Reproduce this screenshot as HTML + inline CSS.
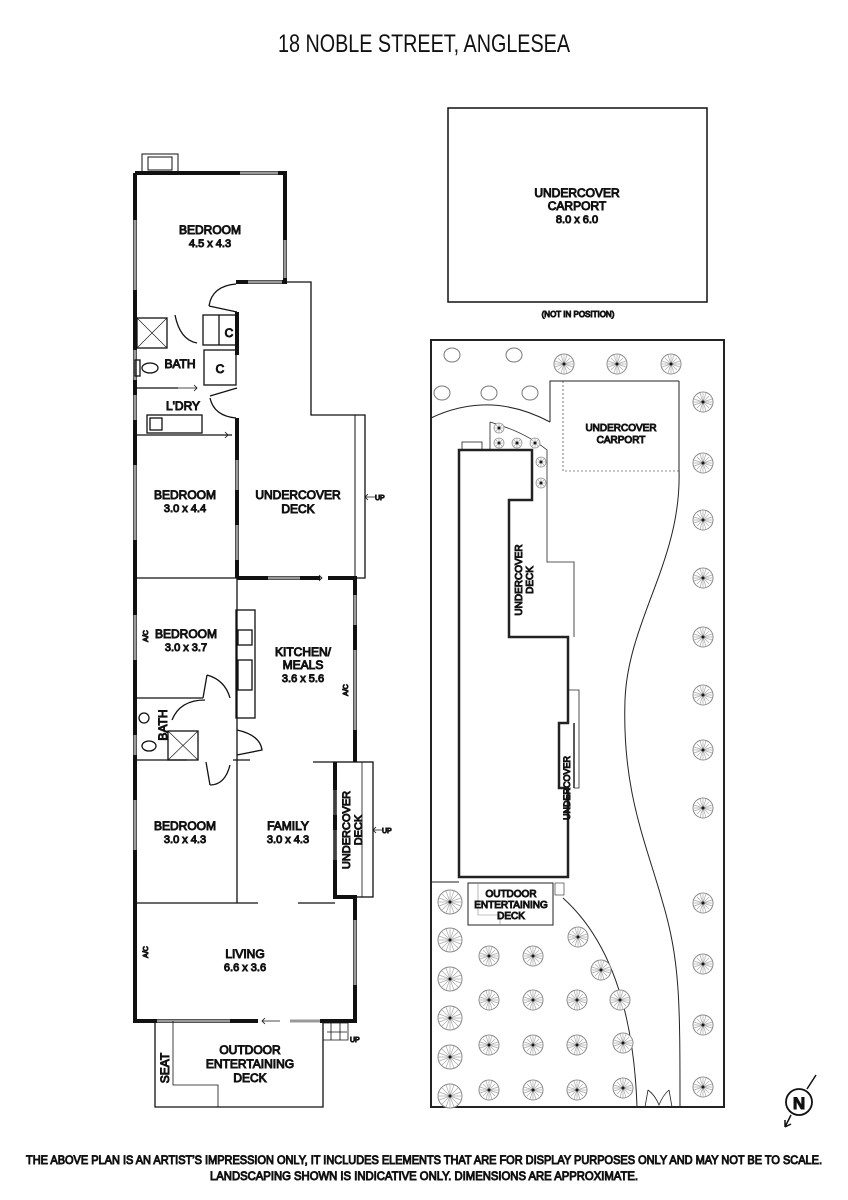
<!DOCTYPE html>
<html><head><meta charset="utf-8"><style>
html,body{margin:0;padding:0;background:#fff;}
svg{display:block;}
text{font-family:"Liberation Sans",sans-serif;fill:#111;}
</style></head><body>
<svg width="848" height="1200" viewBox="0 0 848 1200" xmlns="http://www.w3.org/2000/svg">
<defs>
<g id="st"><circle r="10" fill="#fff" stroke="#888" stroke-width="1"/><path d="M0,-9L0,9M-9,0L9,0M-6,-6L6,6M-6,6L6,-6M-3,-9L3,9M-9,-3L9,3M-9,3L9,-3M-3,9L3,-9" stroke="#aaa" stroke-width="0.7"/><circle r="1" fill="#333"/></g>
<g id="sm"><circle r="5" fill="#fff" stroke="#999" stroke-width="0.8"/><path d="M0,-5L0,5M-5,0L5,0M-3.5,-3.5L3.5,3.5M-3.5,3.5L3.5,-3.5" stroke="#999" stroke-width="0.6"/><circle r="1" fill="#333"/></g>
<g id="bt"><circle r="12" fill="#fff" stroke="#888" stroke-width="1"/><path d="M0,-11L0,11M-11,0L11,0M-8,-8L8,8M-8,8L8,-8M-4,-11L4,11M-11,-4L11,4M-11,4L11,-4M-4,11L4,-11" stroke="#aaa" stroke-width="0.7"/><circle r="1" fill="#333"/></g>
<g id="pl"><ellipse rx="8" ry="7" fill="#fff" stroke="#777" stroke-width="1"/></g>
</defs>
<text x="424" y="52" font-size="25" text-anchor="middle" textLength="292" lengthAdjust="spacingAndGlyphs">18 NOBLE STREET, ANGLESEA</text>

<g fill="none" stroke="#111">
<rect x="142" y="154" width="36" height="19" stroke-width="1"/>
<rect x="148" y="157" width="24" height="13" stroke-width="1"/>
<path d="M135,173 L135,1021 L258,1021" stroke-width="4"/>
<path d="M135,173 L285,173 L285,282 L236,282" stroke-width="4"/>
<path d="M237,312 L237,355" stroke-width="4"/>
<path d="M237,418 L237,578" stroke-width="4"/>
<path d="M237,578 L320,578 M328,578 L355,578 L355,762" stroke-width="4"/>
<path d="M335,762 L335,897 L355,897 L355,1021 L320,1021" stroke-width="4"/>
<g stroke="#999" stroke-width="3">
<path d="M240,173 L278,173"/><path d="M285,240 L285,278"/><path d="M248,282 L282,282"/>
<path d="M135,220 L135,290"/><path d="M135,350 L135,380"/><path d="M135,395 L135,420"/>
<path d="M135,465 L135,540"/><path d="M237,460 L237,490"/><path d="M237,525 L237,560"/>
<path d="M268,578 L300,578"/>
<path d="M135,615 L135,660"/><path d="M135,735 L135,755"/><path d="M135,800 L135,850"/>
<path d="M355,595 L355,625"/><path d="M355,650 L355,730"/>
<path d="M335,790 L335,815"/><path d="M335,830 L335,860"/>
<path d="M355,920 L355,985"/><path d="M157,1021 L230,1021"/><path d="M290,1021 L320,1021"/>
</g>
<g stroke-width="1.3">
<path d="M285,282 L311,282 L311,415 L365,415 L365,578 L353,578"/>
<path d="M355,415 L355,578" stroke-width="1"/>
<path d="M135,388 L178,388 M135,435 L203,435 M203,435 L232,435"/>
<path d="M135,578 L237,578"/>
<path d="M237,578 L237,762 M135,698 L203,698 M135,760 L187,760 M233,760 L250,760 M313,762 L335,762"/>
<path d="M237,762 L237,903 M135,903 L258,903 M298,903 L335,903"/>
<rect x="335" y="762" width="38" height="135"/>
<path d="M362,762 L362,897" stroke-width="0.8"/>
<rect x="203" y="315" width="33" height="30"/><path d="M219,315 L219,345"/>
<rect x="204" y="350" width="32" height="35"/>
<rect x="137" y="318" width="30" height="30"/><path d="M137,318 L167,348 M167,318 L137,348" stroke-width="0.6"/>
<rect x="147" y="415" width="55" height="18"/><rect x="150" y="418" width="12" height="12"/>
<path d="M209,306 Q212,286 236,284 M209,306 L237,312"/>
<path d="M210,398 Q214,416 236,418 M210,396 L237,388"/>
<path d="M175,315 Q180,340 197,343"/>
<rect x="236" y="610" width="19" height="108"/>
<rect x="238" y="630" width="14" height="15"/><rect x="238" y="660" width="14" height="30"/>
<rect x="168" y="731" width="30" height="29"/><path d="M168,731 L198,760 M198,731 L168,760" stroke-width="0.6"/>
<path d="M207,675 Q225,680 230,698 M207,675 L203,698"/>
<path d="M172,720 Q180,700 205,700"/>
<path d="M237,730 Q260,735 262,750 L237,755"/>
<path d="M210,785 Q225,785 230,765 M210,785 L206,762"/>
<ellipse cx="150" cy="368" rx="8" ry="5"/><rect x="135" y="360" width="5" height="16"/>
<ellipse cx="149" cy="746" rx="7" ry="5"/><ellipse cx="144" cy="718" rx="5" ry="5"/>
<path d="M155,1021 L155,1107 L323,1107 L323,1021"/>
<path d="M173,1021 L173,1085 L218,1085 L218,1107" stroke-width="0.8"/>
<path d="M323,1023 L348,1023 L348,1040 L323,1040 M331,1023 L331,1040 M340,1023 L340,1040" stroke-width="0.8"/>
</g>
<g stroke="#111" stroke-width="0.8" fill="none">
<path d="M178,388 L197,388 M194,385 L197,388 L194,391"/>
<path d="M205,435 L228,435 M225,432 L228,435 L225,438"/>
<path d="M300,578 L322,578 M319,575 L322,578 L319,581"/>
<path d="M365,497 L376,497 M368,494 L365,497 L368,500"/>
<path d="M335,815 L335,830"/>
<path d="M373,830 L383,830 M376,827 L373,830 L376,833"/>
<path d="M262,1021 L280,1021 M265,1018 L262,1021 L265,1024"/>
<path d="M327,1032 L347,1032"/>
</g>
<g font-size="12" text-anchor="middle">
<text x="210" y="234">BEDROOM</text><text x="210" y="247" font-size="11">4.5 x 4.3</text>
<text x="180" y="368">BATH</text><text x="183" y="410">L'DRY</text>
<text x="229" y="337" font-size="12">C</text><text x="220" y="373">C</text>
<text x="185" y="499">BEDROOM</text><text x="185" y="512" font-size="11">3.0 x 4.4</text>
<text x="298" y="499">UNDERCOVER</text><text x="298" y="513">DECK</text>
<text x="186" y="638">BEDROOM</text><text x="186" y="651" font-size="11">3.0 x 3.7</text>
<text x="303" y="656">KITCHEN/</text><text x="303" y="669">MEALS</text><text x="303" y="682" font-size="11">3.6 x 5.6</text>
<text x="185" y="830">BEDROOM</text><text x="185" y="843" font-size="11">3.0 x 4.3</text>
<text x="288" y="830">FAMILY</text><text x="288" y="843" font-size="11">3.0 x 4.3</text>
<text x="245" y="958">LIVING</text><text x="245" y="971" font-size="11">6.6 x 3.6</text>
<text x="250" y="1054">OUTDOOR</text><text x="250" y="1068">ENTERTAINING</text><text x="250" y="1082">DECK</text>
<text transform="translate(167,725) rotate(-90)">BATH</text>
<text transform="translate(350,830) rotate(-90)" font-size="11">UNDERCOVER</text>
<text transform="translate(362,830) rotate(-90)" font-size="11">DECK</text>
<text transform="translate(169,1068) rotate(-90)">SEAT</text>
<text transform="translate(148,636) rotate(-90)" font-size="7">A/C</text>
<text transform="translate(348,690) rotate(-90)" font-size="7">A/C</text>
<text transform="translate(148,952) rotate(-90)" font-size="7">A/C</text>
<text x="375" y="500" font-size="7" text-anchor="start">UP</text>
<text x="382" y="833" font-size="7" text-anchor="start">UP</text>
<text x="350" y="1042" font-size="7" text-anchor="start">UP</text>
</g>

<rect x="448" y="108" width="259" height="194" fill="none" stroke="#111" stroke-width="1.5"/>
<g font-size="12" text-anchor="middle">
<text x="577" y="197">UNDERCOVER</text><text x="577" y="210">CARPORT</text><text x="577" y="223" font-size="11">8.0 x 6.0</text>
<text x="578" y="317" font-size="8">(NOT IN POSITION)</text>
</g>
<g fill="none" stroke="#222">
<rect x="431" y="340" width="293" height="767" stroke-width="2"/>
<path d="M431,418 Q490,390 550,422" stroke-width="1"/>
<path d="M550,422 L550,381 L679,381" stroke-width="1"/>
<path d="M563,381 L563,471 L679,471" stroke-width="0.6" stroke-dasharray="2,2"/>
<path d="M679,381 L679,470 C682,560 628,620 625,700 C622,790 645,840 662,900 C680,960 680,1000 680,1107" stroke-width="1"/>
<path d="M563,898 Q632,960 637,1107" stroke-width="1"/>
<path d="M490,422 Q525,432 547,450 L547,500" stroke-width="0.8"/>
<path d="M490,422 L490,450" stroke-width="0.8"/>
<path d="M547,500 L547,562 L574,562 L574,637" stroke-width="0.8"/>
<path d="M568,690 L579,690 L579,788 L574,788" stroke-width="0.8"/>
<path d="M459,450 L532,450 L532,500 L509,500 L509,637 L568,637 L568,723 L559,723 L559,788 L568,788 L568,877 L459,877 Z" stroke-width="2.5" fill="#fff"/>
<path d="M574,723 L574,788" stroke-width="1.5"/>
<path d="M431,882 L459,882" stroke-width="1"/>
<rect x="468" y="883" width="85" height="42" stroke-width="1"/>
<path d="M478,883 L478,915 L500,915 L500,925" stroke-width="0.6" stroke="#888"/>
<rect x="555" y="883" width="9" height="12" stroke-width="0.6"/>
<rect x="462" y="442" width="20" height="8" stroke-width="0.8"/>
<path d="M645,1107 L648,1090 M672,1107 L669,1090 M648,1090 Q655,1095 659,1105 Q663,1095 669,1090" stroke-width="0.8"/>
</g>
<use href="#pl" x="452" y="355"/><use href="#pl" x="514" y="355"/>
<use href="#pl" x="442" y="393"/><use href="#pl" x="489" y="393"/><use href="#pl" x="530" y="393"/>
<use href="#st" x="564" y="364"/><use href="#st" x="617" y="364"/><use href="#st" x="671" y="364"/>
<use href="#sm" x="499" y="428"/><use href="#sm" x="499" y="443"/><use href="#sm" x="517" y="443"/><use href="#sm" x="535" y="443"/><use href="#sm" x="541" y="462"/><use href="#sm" x="541" y="483"/>
<use href="#st" x="703" y="402"/><use href="#st" x="703" y="463"/><use href="#st" x="703" y="520"/><use href="#st" x="703" y="578"/><use href="#st" x="703" y="637"/><use href="#st" x="703" y="695"/><use href="#st" x="703" y="750"/><use href="#st" x="703" y="808"/>
<use href="#st" x="703" y="903"/><use href="#st" x="703" y="964"/><use href="#st" x="703" y="1025"/><use href="#st" x="703" y="1087"/>
<use href="#bt" x="450" y="902"/><use href="#bt" x="450" y="940"/><use href="#bt" x="450" y="979"/><use href="#bt" x="450" y="1018"/><use href="#bt" x="450" y="1057"/><use href="#bt" x="450" y="1096"/>
<use href="#st" x="489" y="956"/><use href="#st" x="533" y="956"/><use href="#st" x="578" y="937"/><use href="#st" x="601" y="970"/>
<use href="#st" x="489" y="1000"/><use href="#st" x="533" y="1000"/><use href="#st" x="577" y="1000"/><use href="#st" x="620" y="1000"/>
<use href="#st" x="489" y="1045"/><use href="#st" x="533" y="1045"/><use href="#st" x="577" y="1045"/><use href="#st" x="623" y="1043"/>
<use href="#st" x="489" y="1090"/><use href="#st" x="533" y="1090"/><use href="#st" x="577" y="1090"/><use href="#st" x="623" y="1088"/>
<g font-size="10" text-anchor="middle">
<text x="621" y="431">UNDERCOVER</text><text x="621" y="443">CARPORT</text>
<text transform="translate(522,580) rotate(-90)">UNDERCOVER</text>
<text transform="translate(533,580) rotate(-90)">DECK</text>
<text transform="translate(570,788) rotate(-90)" font-size="9">UNDERCOVER</text>
<text x="511" y="897">OUTDOOR</text><text x="511" y="908">ENTERTAINING</text><text x="511" y="919">DECK</text>
</g>
<circle cx="799" cy="1102" r="13" fill="#fff" stroke="#111" stroke-width="1.8"/>
<text x="799" y="1109" font-size="17" font-weight="bold" text-anchor="middle">N</text>
<path d="M807,1089 L816,1075 M791,1115 L785,1127 M785,1127 L785,1120 M785,1127 L791,1124" stroke="#111" stroke-width="1.5" fill="none"/>
<g font-size="12" text-anchor="middle">
<text x="424" y="1164" textLength="796" lengthAdjust="spacingAndGlyphs">THE ABOVE PLAN IS AN ARTIST’S IMPRESSION ONLY, IT INCLUDES ELEMENTS THAT ARE FOR DISPLAY PURPOSES ONLY AND MAY NOT BE TO SCALE.</text>
<text x="424" y="1180" textLength="428" lengthAdjust="spacingAndGlyphs">LANDSCAPING SHOWN IS INDICATIVE ONLY. DIMENSIONS ARE APPROXIMATE.</text>
</g>
</svg>
</body></html>
